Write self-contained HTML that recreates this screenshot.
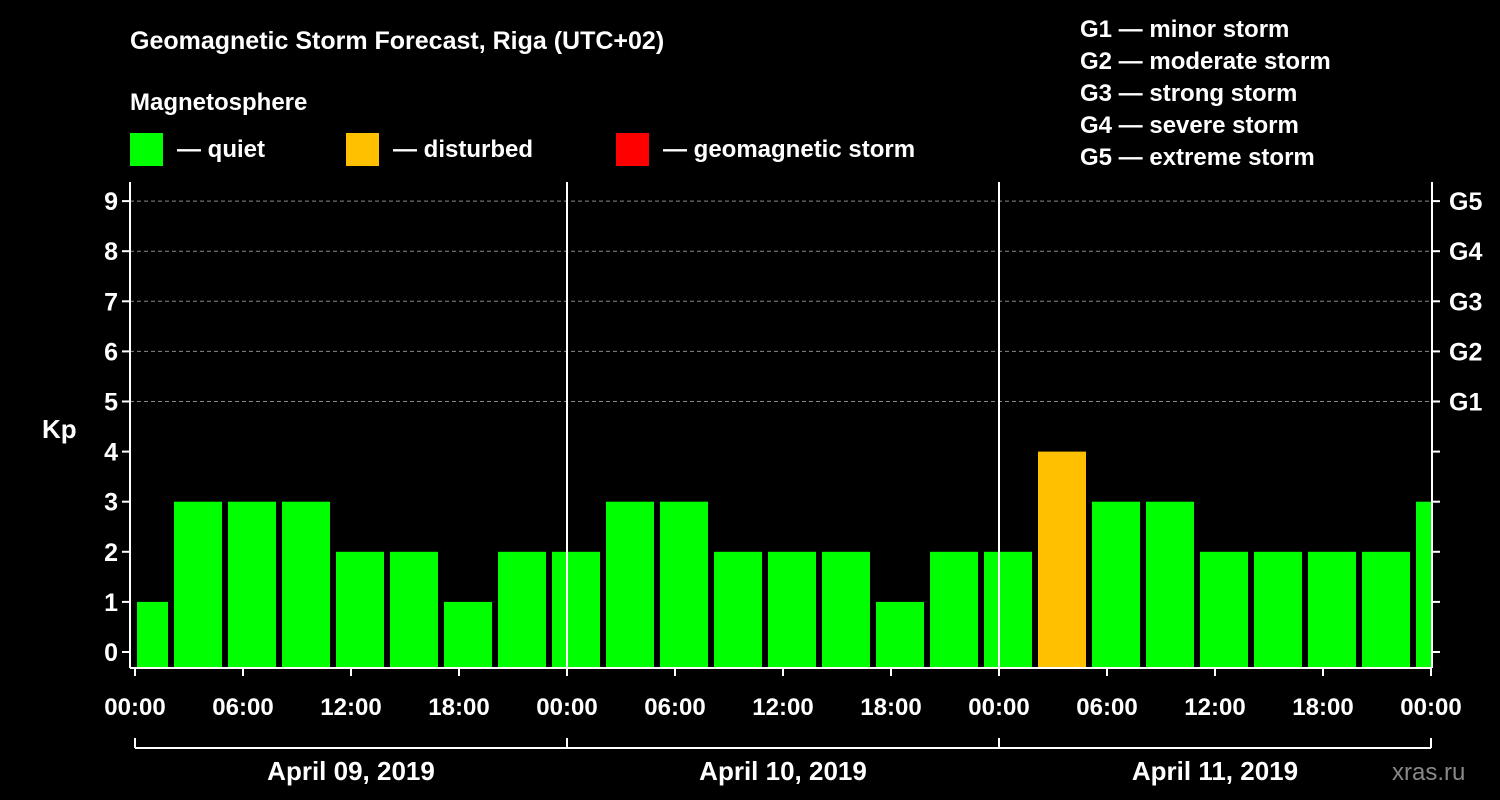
<!DOCTYPE html>
<html><head><meta charset="utf-8"><style>
body{margin:0;background:#000;}
svg{display:block;font-family:"Liberation Sans",Arial,sans-serif;font-weight:bold;}
</style></head><body>
<svg id="c" width="1500" height="800" viewBox="0 0 1500 800">
<rect width="1500" height="800" fill="#000"/>
<text x="130" y="49" fill="#fff" font-size="25">Geomagnetic Storm Forecast, Riga (UTC+02)</text>
<text x="130" y="110" fill="#fff" font-size="24">Magnetosphere</text>
<g><rect x="130" y="133" width="33" height="33" fill="#00ff00"/><text x="177" y="157" fill="#fff" font-size="24">— quiet</text></g>
<g><rect x="346" y="133" width="33" height="33" fill="#ffc000"/><text x="393" y="157" fill="#fff" font-size="24">— disturbed</text></g>
<g><rect x="616" y="133" width="33" height="33" fill="#ff0000"/><text x="663" y="157" fill="#fff" font-size="24">— geomagnetic storm</text></g>
<g fill="#fff" font-size="24">
<text x="1080" y="37">G1 — minor storm</text><text x="1080" y="69">G2 — moderate storm</text><text x="1080" y="101">G3 — strong storm</text><text x="1080" y="133">G4 — severe storm</text><text x="1080" y="165">G5 — extreme storm</text></g>
<text x="42" y="438" fill="#fff" font-size="26">Kp</text>
<text x="1392" y="780" fill="#888" font-size="24" font-weight="normal">xras.ru</text>
<g id="g"></g>
</svg>
<script>
const kpValues=[1,3,3,3,2,2,1,2,2,3,3,2,2,2,1,2,2,4,3,3,2,2,2,2,3];
const barStartHours=-1;
const yTicks=[0,1,2,3,4,5,6,7,8,9];
const gLabels=["G1","G2","G3","G4","G5"];
const xTickLabels=["00:00","06:00","12:00","18:00","00:00","06:00","12:00","18:00","00:00","06:00","12:00","18:00","00:00"];
const dayLabels=["April 09, 2019","April 10, 2019","April 11, 2019"];
const X0=135,PXH=18,L=130,R=1432,T=182,B=668;
const x=h=>X0+h*PXH, y=v=>652-v*50.1;
const g=document.getElementById('g'),NS='http://www.w3.org/2000/svg';
function mk(t,a,txt){const e=document.createElementNS(NS,t);for(const k in a)e.setAttribute(k,a[k]);if(txt!=null)e.textContent=txt;g.appendChild(e);return e;}
yTicks.forEach(v=>{if(v>=5){const e=mk('line',{x1:L,x2:R,y1:y(v),y2:y(v),stroke:'#888','stroke-dasharray':'4,3'});}});
kpValues.forEach((v,i)=>{const h=barStartHours+i*3;let x1=x(h)+3,x2=x(h+3)-3;x1=Math.max(x1,x(0)+2);x2=Math.min(x2,R-1);
const c=v>=5?'#ff0000':(v>=4?'#ffc000':'#00ff00');
const e=mk('rect',{x:x1,y:y(v),width:x2-x1,height:B-y(v),fill:c});});
[[L,T,L,B],[R,T,R,B],[L,B,R,B],[x(24),T,x(24),B],[x(48),T,x(48),B]].forEach(p=>{const e=mk('line',{x1:p[0],y1:p[1],x2:p[2],y2:p[3],stroke:'#fff','stroke-width':2});});
yTicks.forEach(v=>{mk('line',{x1:L-8,x2:L,y1:y(v),y2:y(v),stroke:'#fff','stroke-width':2});mk('line',{x1:R,x2:R+8,y1:y(v),y2:y(v),stroke:'#fff','stroke-width':2});
const e=mk('text',{x:L-12,y:y(v)+9,fill:'#fff','font-size':25,'text-anchor':'end'},v);
if(v>=5){const t=mk('text',{x:1449,y:y(v)+9,fill:'#fff','font-size':25},gLabels[v-5]);}});
xTickLabels.forEach((s,i)=>{const xx=x(i*6);mk('line',{x1:xx,x2:xx,y1:B,y2:B+8,stroke:'#fff','stroke-width':2});
const e=mk('text',{x:xx,y:715,fill:'#fff','font-size':24,'text-anchor':'middle'},s);});
mk('line',{x1:x(0),x2:x(72),y1:748,y2:748,stroke:'#fff','stroke-width':2});
[0,24,48,72].forEach(h=>mk('line',{x1:x(h),x2:x(h),y1:738,y2:748,stroke:'#fff','stroke-width':2}));
dayLabels.forEach((s,i)=>{const e=mk('text',{x:x(i*24+12),y:780,fill:'#fff','font-size':26,'text-anchor':'middle'},s);});
</script>
</body></html>
